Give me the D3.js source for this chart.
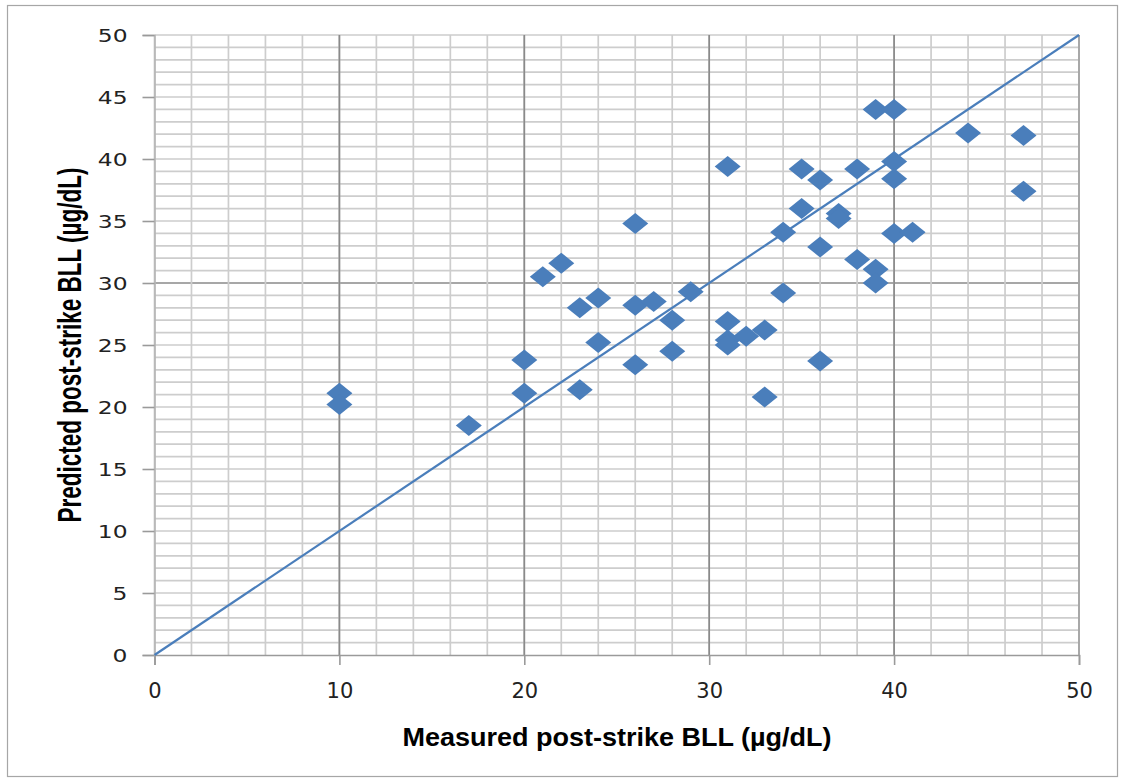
<!DOCTYPE html>
<html lang="en">
<head>
  <meta charset="UTF-8">
  <title>Measured vs predicted post-strike BLL</title>
  <script src="https://d3js.org/d3.v7.min.js"></script>
  <style>
    body { margin: 0; background: #fff; }
    .chart { width: 1123px; height: 778px; }
  </style>
</head>
<body>
  <div class="chart"></div>
  <script>
    // measured (x) and predicted (y) post-strike BLL
    const measured = [10, 10, 17, 20, 20, 21, 22, 23, 23, 24, 24, 26, 26, 26, 27, 28, 28, 29,
      31, 31, 31, 31, 32, 33, 33, 34, 34, 35, 35, 36, 36, 36, 37, 37, 38, 38, 39, 39, 39,
      40, 40, 40, 40, 41, 44, 47, 47];
    const predicted = [21.1, 20.2, 18.5, 23.8, 21.1, 30.5, 31.6, 28.0, 21.4, 28.8, 25.2, 34.8, 28.2, 23.4, 28.5, 27.0, 24.5, 29.3,
      39.4, 26.9, 25.4, 25.0, 25.7, 26.2, 20.8, 34.1, 29.2, 39.2, 36.0, 38.3, 32.9, 23.7, 35.6, 35.2, 39.2, 31.9, 44.0, 31.1, 30.0,
      44.0, 39.8, 38.4, 34.0, 34.1, 42.1, 41.9, 37.4];
    const xTicks = [0, 10, 20, 30, 40, 50];
    const yTicks = [0, 5, 10, 15, 20, 25, 30, 35, 40, 45, 50];
    const identity = [[0, 0], [50, 50]];

    const W = 1123, H = 778;
    const plot = { left: 154.5, right: 1079, top: 35, bottom: 655 };
    const blue = '#4a7ebb';

    const svg = d3.select('.chart').append('svg')
      .attr('width', W).attr('height', H);

    svg.append('rect').attr('x', 7.5).attr('y', 5.5).attr('width', 1110).attr('height', 771)
      .attr('fill', '#fff').attr('stroke', '#a6a6a6').attr('stroke-width', 1.2);

    const x = d3.scaleLinear().domain([0, 50]).range([plot.left, plot.right]);
    const y = d3.scaleLinear().domain([0, 50]).range([plot.bottom, plot.top]);

    // grid
    const grid = svg.append('g');
    grid.selectAll('.hmin').data(d3.range(1, 51)).join('line')
      .attr('x1', plot.left).attr('x2', plot.right)
      .attr('y1', d => y(d)).attr('y2', d => y(d))
      .attr('stroke', d => d === 30 ? '#8a8a8a' : '#cdcdcd').attr('stroke-width', 1.7);
    grid.selectAll('.vmin').data(d3.range(0, 51, 2)).join('line')
      .attr('y1', plot.top).attr('y2', plot.bottom)
      .attr('x1', d => x(d)).attr('x2', d => x(d))
      .attr('stroke', '#cdcdcd').attr('stroke-width', 1.7);
    grid.selectAll('.vmaj').data([10, 20, 30, 40]).join('line')
      .attr('y1', plot.top).attr('y2', plot.bottom)
      .attr('x1', d => x(d)).attr('x2', d => x(d))
      .attr('stroke', '#8a8a8a').attr('stroke-width', 1.7);
    grid.append('line').attr('x1', x(50)).attr('x2', x(50)).attr('y1', plot.top).attr('y2', plot.bottom)
      .attr('stroke', '#a0a0a0').attr('stroke-width', 1.7);

    // axes
    const xAxis = svg.append('g').attr('transform', `translate(0,${plot.bottom})`)
      .call(d3.axisBottom(x).tickValues(xTicks).tickSizeOuter(0).tickSize(10));
    xAxis.select('.domain').attr('stroke', '#9a9a9a').attr('stroke-width', 1.6);
    xAxis.selectAll('.tick line').attr('stroke', '#9a9a9a').attr('stroke-width', 1.6);
    xAxis.selectAll('.tick text').attr('y', 43).attr('dy', 0)
      .attr('font-family', 'DejaVu Sans, sans-serif').attr('font-size', 21).attr('fill', '#222');

    const yAxis = svg.append('g').attr('transform', `translate(${plot.left},0)`)
      .call(d3.axisLeft(y).tickValues(yTicks).tickSizeOuter(0).tickSize(12));
    yAxis.select('.domain').attr('stroke', '#b5b5b5').attr('stroke-width', 1.6);
    yAxis.selectAll('.tick line').attr('stroke', '#9a9a9a').attr('stroke-width', 1.6);
    yAxis.selectAll('.tick text')
      .attr('x', -27 / 1.3).attr('dy', '0.36em')
      .attr('transform', 'scale(1.3,1)')
      .attr('font-family', 'DejaVu Sans, sans-serif').attr('font-size', 18).attr('fill', '#222');

    // identity line
    svg.append('path').datum(identity)
      .attr('d', d3.line().x(d => x(d[0])).y(d => y(d[1])))
      .attr('fill', 'none').attr('stroke', blue).attr('stroke-width', 2.2);

    // diamond markers
    const diamond = 'M0,-10.5L13,0L0,10.5L-13,0Z';
    svg.append('g').selectAll('path').data(measured.map((m, i) => [m, predicted[i]])).join('path')
      .attr('transform', d => `translate(${x(d[0])},${y(d[1])})`)
      .attr('d', diamond).attr('fill', blue);

    // axis titles
    svg.append('text').attr('x', 617).attr('y', 746).attr('text-anchor', 'middle')
      .attr('font-family', 'Liberation Sans, Arial, sans-serif').attr('font-weight', 'bold')
      .attr('font-size', 25).attr('textLength', 429).attr('lengthAdjust', 'spacingAndGlyphs')
      .text('Measured post-strike BLL (µg/dL)');

    svg.append('text').attr('transform', 'translate(81,345) rotate(-90)').attr('text-anchor', 'middle')
      .attr('font-family', 'Liberation Sans, Arial, sans-serif').attr('font-weight', 'bold')
      .attr('font-size', 33).attr('textLength', 355).attr('lengthAdjust', 'spacingAndGlyphs')
      .text('Predicted post-strike BLL (µg/dL)');
  </script>
</body>
</html>
